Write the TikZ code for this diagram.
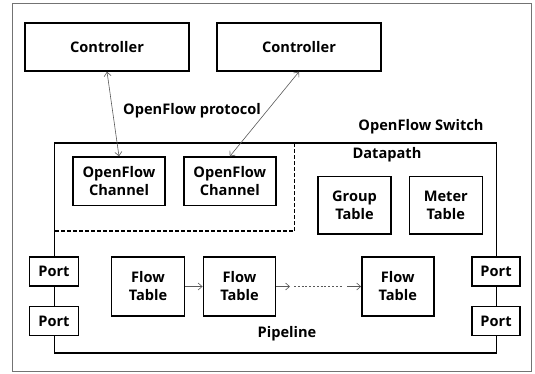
\documentclass[tikz,border=0pt]{standalone}
\usepackage{fontspec}
\setmainfont{Open Sans}
\usetikzlibrary{arrows.meta}
\begin{document}
\begin{tikzpicture}[x=1pt,y=-1pt,
  every node/.style={font=\fontsize{14.6}{18}\selectfont\bfseries, align=center, inner sep=0pt},
  box/.style={draw=black, line width=1.4pt, fill=white},
  conn/.style={draw=black!65, line width=0.6pt, {Straight Barb[length=4pt,width=7pt]}-{Straight Barb[length=4pt,width=7pt]}},
  fwd/.style={draw=black!65, line width=0.6pt, -{Straight Barb[length=4pt,width=7pt]}},
]
\useasboundingbox (0,0) rectangle (535,373);
% outer frame
\draw[black!55, line width=1pt] (12,3) rectangle (531,371);
% controllers
\node[box, minimum width=164pt, minimum height=48pt] (c1) at (107,47) {Controller};
\node[box, minimum width=164pt, minimum height=48pt] (c2) at (299,47) {Controller};
\node (prot) at (192,111) {OpenFlow protocol};
\node (sw) at (421,127) {OpenFlow Switch};
% switch
\draw[black, line width=1.4pt] (54.5,143) rectangle (496.5,353);
\coordinate (dtop) at (294.5,143);
\coordinate (dcorner) at (294.5,231);
\coordinate (dleft) at (54.5,231);
\draw[black, line width=1.4pt, dash pattern=on 3.5pt off 2.5pt] (dtop) -- (dcorner) -- (dleft);
\node (dp) at (387,155) {Datapath};
% channels
\node[box, minimum width=92pt, minimum height=48.5pt] (ch1) at (119,181.3) {OpenFlow\\Channel};
\node[box, minimum width=92pt, minimum height=48.5pt] (ch2) at (229.8,181.3) {OpenFlow\\Channel};
% group / meter
\node[box, minimum width=73pt, minimum height=57.5pt] (gt) at (354.5,205.3) {Group\\Table};
\node[box, minimum width=73pt, minimum height=57.5pt] (mt) at (445.8,205.3) {Meter\\Table};
% flow tables
\node[box, minimum width=72.5pt, minimum height=59pt] (ft1) at (148,286.5) {Flow\\Table};
\node[box, minimum width=72.5pt, minimum height=59pt] (ft2) at (239.5,286.5) {Flow\\Table};
\node[box, minimum width=72pt, minimum height=59pt] (ft3) at (397.8,286.5) {Flow\\Table};
\node (pipe) at (287,334) {Pipeline};
% ports
\node[box, minimum width=49pt, minimum height=29pt] (pl1) at (54,271.5) {Port};
\node[box, minimum width=49pt, minimum height=29pt] (pl2) at (54,321) {Port};
\node[box, minimum width=48pt, minimum height=29pt] (pr1) at (496,271.5) {Port};
\node[box, minimum width=48pt, minimum height=29pt] (pr2) at (496,321) {Port};
% connectors
\draw[conn] (c1.south) -- (ch1.north);
\draw[conn] (c2.south) -- (ch2.north);
\draw[fwd] (ft1.east) -- (ft2.west);
\coordinate (a1) at (290,286.5);
\coordinate (d1) at (294,286.5);
\coordinate (d2) at (342,286.5);
\coordinate (a2) at (347,286.5);
\draw[fwd] (ft2.east) -- (a1);
\draw[black!65, line width=0.6pt, dash pattern=on 2pt off 1.8pt] (d1) -- (d2);
\draw[fwd] (a2) -- (ft3.west);
\end{tikzpicture}
\end{document}
